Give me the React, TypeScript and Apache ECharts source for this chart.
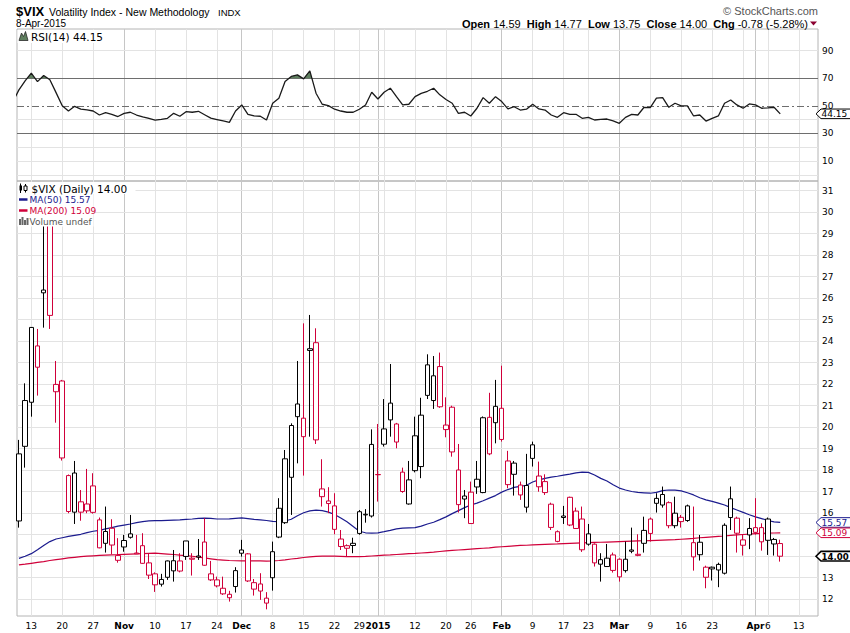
import React, { useEffect, useRef } from "react";
import * as echarts from "echarts";

// ---------- DATA ----------
const dates: string[] = [
  "2014-10-09","2014-10-10","2014-10-13","2014-10-14","2014-10-15","2014-10-16","2014-10-17","2014-10-20","2014-10-21","2014-10-22",
  "2014-10-23","2014-10-24","2014-10-27","2014-10-28","2014-10-29","2014-10-30","2014-10-31","2014-11-03","2014-11-04","2014-11-05",
  "2014-11-06","2014-11-07","2014-11-10","2014-11-11","2014-11-12","2014-11-13","2014-11-14","2014-11-17","2014-11-18","2014-11-19",
  "2014-11-20","2014-11-21","2014-11-24","2014-11-25","2014-11-26","2014-11-28","2014-12-01","2014-12-02","2014-12-03","2014-12-04",
  "2014-12-05","2014-12-08","2014-12-09","2014-12-10","2014-12-11","2014-12-12","2014-12-15","2014-12-16","2014-12-17","2014-12-18",
  "2014-12-19","2014-12-22","2014-12-23","2014-12-24","2014-12-26","2014-12-29","2014-12-30","2014-12-31","2015-01-02","2015-01-05",
  "2015-01-06","2015-01-07","2015-01-08","2015-01-09","2015-01-12","2015-01-13","2015-01-14","2015-01-15","2015-01-16","2015-01-20",
  "2015-01-21","2015-01-22","2015-01-23","2015-01-26","2015-01-27","2015-01-28","2015-01-29","2015-01-30","2015-02-02","2015-02-03",
  "2015-02-04","2015-02-05","2015-02-06","2015-02-09","2015-02-10","2015-02-11","2015-02-12","2015-02-13","2015-02-17","2015-02-18",
  "2015-02-19","2015-02-20","2015-02-23","2015-02-24","2015-02-25","2015-02-26","2015-02-27","2015-03-02","2015-03-03","2015-03-04",
  "2015-03-05","2015-03-06","2015-03-09","2015-03-10","2015-03-11","2015-03-12","2015-03-13","2015-03-16","2015-03-17","2015-03-18",
  "2015-03-19","2015-03-20","2015-03-23","2015-03-24","2015-03-25","2015-03-26","2015-03-27","2015-03-30","2015-03-31","2015-04-01",
  "2015-04-02","2015-04-06","2015-04-07","2015-04-08",
];

const opens: number[] = [
  15.64, 19.11, 21.16, 23.78, 26.38, 29.6, 21.65, 22.15, 17.75, 16.05,
  16.05, 16.43, 17.27, 15.69, 14.6, 15.3, 13.81, 14.43, 15.04, 14.15,
  14.49, 13.69, 13.18, 12.7, 13.78, 13.32, 13.78, 14.71, 13.91, 14.01,
  14.66, 13.18, 12.9, 12.51, 12.23, 12.59, 14.14, 14.11, 12.77, 12.71,
  12.05, 13.0, 16.23, 15.56, 17.67, 20.49, 19.56, 23.65, 23.93, 17.13,
  16.57, 16.34, 14.45, 14.49, 14.6, 16.07, 15.95, 15.87, 17.8, 19.21,
  20.34, 20.15, 17.91, 16.43, 17.98, 18.17, 22.9, 21.24, 22.82, 20.1,
  20.93, 18.01, 16.8, 16.98, 17.58, 16.96, 20.46, 20.21, 20.88, 18.43,
  17.81, 17.31, 16.28, 19.18, 17.73, 17.47, 16.42, 15.14, 15.87, 16.74,
  16.1, 15.73, 15.04, 14.56, 13.63, 13.52, 14.06, 13.86, 13.33, 14.29,
  14.09, 14.6, 15.73, 16.46, 16.38, 16.49, 15.42, 15.81, 16.34, 14.63,
  14.65, 13.49, 13.49, 13.36, 13.21, 16.67, 15.77, 14.76, 14.99, 15.33,
  15.33, 15.73, 14.57, 14.59,
];
const highs: number[] = [
  19.41, 22.04, 24.65, 24.57, 31.06, 30.2, 23.08, 22.2, 17.8, 18.43,
  17.08, 18.06, 17.86, 15.8, 16.31, 15.72, 14.84, 14.99, 15.92, 14.99,
  15.07, 14.14, 13.25, 13.18, 13.8, 14.29, 14.14, 14.71, 14.14, 14.8,
  15.77, 13.78, 13.05, 13.05, 12.39, 13.49, 14.76, 14.15, 12.94, 13.21,
  12.33, 14.68, 16.7, 18.94, 20.18, 23.08, 24.83, 25.22, 24.6, 18.51,
  17.21, 16.93, 15.22, 14.55, 14.86, 16.15, 16.19, 19.9, 20.15, 21.31,
  22.94, 20.2, 18.12, 18.43, 20.49, 21.37, 23.39, 23.31, 23.47, 21.39,
  21.0, 19.22, 17.08, 17.47, 18.43, 20.5, 21.6, 22.2, 22.86, 18.9,
  18.43, 17.47, 18.76, 19.33, 18.4, 17.81, 16.49, 15.2, 16.34, 16.77,
  16.26, 16.31, 15.5, 14.6, 14.14, 14.57, 14.17, 13.9, 14.68, 15.33,
  15.02, 15.84, 15.8, 16.93, 17.24, 16.55, 16.77, 15.92, 16.4, 16.31,
  14.99, 13.56, 13.52, 13.7, 15.53, 17.24, 15.84, 15.0, 15.77, 16.7,
  15.53, 15.8, 14.85, 14.77,
];
const lows: number[] = [
  15.33, 18.12, 20.49, 21.47, 24.63, 24.57, 20.21, 18.45, 16.0, 15.5,
  15.65, 16.0, 15.98, 14.37, 14.17, 14.09, 13.7, 14.21, 14.82, 14.1,
  13.65, 12.94, 12.34, 12.59, 12.9, 12.82, 13.25, 13.83, 13.1, 13.83,
  13.56, 12.85, 12.55, 12.2, 11.89, 12.31, 13.98, 12.8, 12.17, 11.97,
  11.53, 12.4, 14.84, 15.5, 15.92, 18.32, 17.75, 19.56, 19.22, 16.31,
  16.0, 15.02, 14.29, 14.01, 14.14, 15.0, 15.56, 15.8, 16.54, 19.1,
  19.56, 19.02, 16.95, 16.4, 17.9, 17.63, 21.31, 20.85, 20.9, 19.53,
  18.63, 16.03, 15.77, 15.5, 16.9, 16.93, 18.7, 19.25, 19.33, 17.16,
  16.82, 16.62, 16.03, 18.17, 17.0, 16.85, 15.22, 14.65, 15.5, 15.4,
  15.28, 14.2, 14.49, 13.52, 12.82, 13.5, 13.24, 12.82, 13.24, 14.14,
  14.0, 14.17, 14.68, 16.03, 16.26, 15.3, 15.3, 15.33, 15.6, 13.33,
  13.8, 12.51, 12.87, 12.56, 13.15, 15.22, 14.17, 14.03, 14.33, 15.0,
  14.26, 14.06, 14.03, 13.75,
];
const closes: number[] = [
  18.76, 21.24, 24.64, 22.79, 26.25, 25.2, 21.99, 18.57, 16.08, 17.87,
  16.53, 16.11, 16.04, 14.39, 15.15, 14.52, 14.03, 14.73, 14.88, 14.11,
  13.67, 13.12, 12.67, 12.92, 13.02, 13.79, 13.31, 13.99, 13.86, 13.96,
  13.58, 12.9, 12.62, 12.25, 12.07, 13.33, 14.29, 12.85, 12.47, 12.38,
  11.82, 14.21, 14.89, 18.53, 20.08, 21.08, 20.42, 23.57, 19.41, 16.77,
  16.45, 15.25, 14.8, 14.37, 14.5, 15.06, 15.92, 19.2, 17.79, 19.92,
  21.12, 19.31, 17.01, 17.55, 19.6, 20.56, 21.48, 22.39, 20.95, 19.89,
  18.85, 16.4, 16.66, 15.52, 17.22, 20.44, 18.76, 20.97, 19.43, 17.33,
  18.33, 16.85, 17.29, 18.55, 17.23, 16.96, 15.34, 14.69, 15.8, 15.45,
  15.29, 14.3, 14.56, 13.69, 13.84, 13.91, 13.34, 13.04, 13.86, 14.23,
  14.04, 15.2, 15.06, 16.69, 16.87, 15.42, 16.0, 15.61, 15.66, 13.97,
  14.07, 13.02, 13.41, 13.62, 15.44, 15.8, 15.07, 14.51, 15.29, 15.11,
  14.67, 14.74, 14.78, 14.0,
];
const ma50: number[] = [
  13.9, 14.0, 14.12, 14.3, 14.5, 14.68, 14.8, 14.86, 14.92, 14.97,
  15.02, 15.1, 15.16, 15.2, 15.27, 15.33, 15.4, 15.45, 15.5, 15.56,
  15.61, 15.64, 15.66, 15.66, 15.67, 15.68, 15.69, 15.71, 15.73, 15.76,
  15.77, 15.76, 15.73, 15.73, 15.74, 15.76, 15.78, 15.75, 15.71, 15.69,
  15.66, 15.62, 15.61, 15.64, 15.72, 15.88, 16.02, 16.11, 16.14, 16.12,
  16.05, 15.94, 15.78, 15.6, 15.38, 15.16, 15.09, 15.07, 15.09, 15.14,
  15.2, 15.27, 15.31, 15.32, 15.33, 15.4, 15.5, 15.58, 15.7, 15.83,
  15.98, 16.12, 16.26, 16.38, 16.47, 16.58, 16.7, 16.82, 16.98, 17.1,
  17.2, 17.25, 17.3, 17.45, 17.55, 17.62, 17.68, 17.72, 17.77, 17.82,
  17.88, 17.91, 17.9, 17.78, 17.62, 17.5, 17.32, 17.17, 17.08, 17.01,
  16.97, 16.95, 16.93, 16.97, 17.05, 17.08, 17.07, 17.04, 16.95, 16.85,
  16.72, 16.62, 16.55, 16.47, 16.38, 16.26, 16.15, 16.04, 15.93, 15.83,
  15.75, 15.66, 15.6, 15.57,
];
const ma200: number[] = [
  13.6, 13.63, 13.67, 13.71, 13.75, 13.8, 13.84, 13.88, 13.92, 13.95,
  13.98, 14.0, 14.02, 14.04, 14.05, 14.06, 14.07, 14.09, 14.1, 14.11,
  14.12, 14.13, 14.14, 14.12, 14.1, 14.08, 14.05, 14.03, 14.0, 13.96,
  13.92, 13.88, 13.84, 13.82, 13.8, 13.79, 13.78, 13.78, 13.78, 13.78,
  13.77, 13.78, 13.8, 13.83, 13.87, 13.9, 13.94, 13.97, 13.99, 14.0,
  14.01, 14.0, 13.99, 13.98, 13.98, 13.98, 13.99, 14.01, 14.03, 14.05,
  14.06, 14.08, 14.1, 14.12, 14.13, 14.15, 14.17, 14.19, 14.22, 14.25,
  14.27, 14.29, 14.31, 14.33, 14.35, 14.37, 14.39, 14.42, 14.44, 14.46,
  14.48, 14.5, 14.51, 14.53, 14.54, 14.55, 14.56, 14.57, 14.59, 14.6,
  14.61, 14.62, 14.63, 14.64, 14.65, 14.66, 14.67, 14.68, 14.69, 14.7,
  14.71, 14.72, 14.73, 14.74, 14.75, 14.76, 14.77, 14.79, 14.81, 14.83,
  14.86, 14.88, 14.9, 14.92, 14.94, 14.97, 14.99, 15.01, 15.03, 15.05,
  15.06, 15.07, 15.08, 15.09,
];
const rsiPrevDay = 52.7;
const rsi14: number[] = [
  61.5, 68, 73.6, 67.5, 71.9, 68.8, 59.5, 50, 46.2, 49.6,
  47.6, 47, 46.2, 43.3, 45, 43.8, 42.2, 44.5, 45.3, 43.3,
  42, 40.8, 39.6, 40.2, 40.9, 44.5, 42.4, 45.7, 45.3, 46,
  43.5, 41, 40, 39, 38, 46.2, 50.6, 43.8, 42.6, 42.4,
  39.7, 51.8, 55.5, 67.5, 71.2, 72.4, 69.5, 75.3, 59.1, 51.1,
  50.1, 47.5, 46.2, 45.3, 45.3, 47.5, 50.6, 59.8, 54.9, 59.8,
  62.7, 56.6, 50.6, 51.1, 56.6, 59, 60.5, 62.7, 57.9, 54.5,
  51.8, 44.5, 45.3, 42.6, 48.2, 55.9, 51.8, 56.6, 53, 47.7,
  49.3, 46.9, 47.5, 51.1, 47.7, 46.9, 43.3, 41.6, 45, 43.8,
  43.8, 40.9, 41.6, 39.7, 40.2, 40.4, 39, 37.3, 41.6, 43.8,
  43.3, 48.9, 48.7, 55.5, 55.9, 48.9, 51.8, 49.9, 49.9, 42.6,
  43.3, 38.9, 40.9, 42.6, 51.8, 54.2, 50.6, 48.2, 51.3, 50.6,
  48.2, 48.5, 48.9, 44.15,
];

// x-axis labels (trading-day index -> text)
const xLabelIdx: number[] = [2, 7, 12, 17, 22, 27, 32, 36, 41, 46, 51, 55, 58, 64, 69, 73, 78, 83, 88, 92, 97, 102, 107, 112, 119, 121, 126];
const xLabelText: string[] = ["13", "20", "27", "Nov", "10", "17", "24", "Dec", "8", "15", "22", "29", "2015", "12", "20", "26", "Feb", "9", "17", "23", "Mar", "9", "16", "23", "Apr", "6", "13"];
const boldLabels: string[] = ["Nov", "Dec", "2015", "Feb", "Mar", "Apr"];
const weekLineIdx: number[] = [2, 7, 12, 22, 27, 32, 41, 46, 51, 55, 59, 64, 69, 73, 83, 88, 92, 102, 107, 112, 117, 121, 126];
const monthLineIdx: number[] = [17, 36, 58, 78, 97, 119];
const priceTicks: number[] = [12, 13, 14, 15, 16, 17, 18, 19, 20, 21, 22, 23, 24, 25, 26, 27, 28, 29, 30, 31];
const rsiTicks: number[] = [10, 30, 50, 70, 90];
const rsiLightLines: number[] = [0, 10, 20, 40, 90];
const rsiBandLines: number[] = [30, 70];
const rsiMidLine = 50;
const rsiOverbought = 70;

// ---------- LAYOUT ----------
const X_MIN = -0.31;
const X_MAX = 129.1;
const PRICE_MIN = 11.22;
const PRICE_MAX = 31.45;
const RSI_MIN = -4.5;
const RSI_MAX = 105.6;

const FA = '"Liberation Sans", Arial, sans-serif';
const FV = '"DejaVu Sans", Verdana, sans-serif';
const BLACK = "#000000";
const RED = "#d0003a";
const NAVY = "#1b1b8e";
const GREEN = "#5f7f5f";
const GRID_LIGHT = "#e3e3e3";
const GRID_DARK = "#c6c6c6";
const AXIS_FONT = 9;
const TAG_HALF = 4.8;

function txt(x: number, y: number, text: string, size: number, opts: any = {}) {
  return {
    type: "text",
    x,
    y,
    z: 100,
    style: {
      text,
      fontSize: size,
      fontFamily: opts.family || FA,
      fontWeight: opts.weight || "normal",
      fill: opts.fill || "#000",
      align: opts.align || "left",
      textAlign: opts.align || "left",
      verticalAlign: "middle",
      textVerticalAlign: "middle",
      rich: opts.rich,
    },
  };
}

export default function App() {
  const ref = useRef<HTMLDivElement>(null);

  useEffect(() => {
    if (!ref.current) return;
    const chart = echarts.init(ref.current, null, { renderer: "svg" });

    const candleData = opens.map((o, i) => {
      const c = closes[i];
      const col = i === 0 || c >= closes[i - 1] ? BLACK : RED;
      return {
        name: dates[i],
        value: [i, o, c, lows[i], highs[i]],
        itemStyle: { color: "#ffffff", borderColor: col, color0: col, borderColor0: col, borderColorDoji: col, borderWidth: 1 },
      };
    });

    const rsiPts: number[][] = [[-1, rsiPrevDay], ...rsi14.map((v, i) => [i, v])];
    // overbought fill (above 70), derived from the RSI line
    const obPts: number[][] = [];
    for (let k = 0; k < rsiPts.length; k++) {
      if (k > 0) {
        const [x0, y0] = rsiPts[k - 1];
        const [x1, y1] = rsiPts[k];
        if ((y0 - rsiOverbought) * (y1 - rsiOverbought) < 0) {
          const t = (rsiOverbought - y0) / (y1 - y0);
          obPts.push([x0 + t * (x1 - x0), rsiOverbought]);
        }
      }
      obPts.push([rsiPts[k][0], Math.max(rsiPts[k][1], rsiOverbought)]);
    }

    const vLines = [
      ...weekLineIdx.map((v) => ({ xAxis: v, lineStyle: { color: GRID_LIGHT, width: 1, type: "solid" } })),
      ...monthLineIdx.map((v) => ({ xAxis: v, lineStyle: { color: GRID_DARK, width: 1, type: "solid" } })),
    ];
    const markBase = { silent: true, symbol: ["none", "none"], label: { show: false }, z: 1, animation: false, emphasis: { disabled: true } };
    const axisLabelBase = { margin: 4, fontSize: AXIS_FONT, fontFamily: FV, color: "#000" };

    const option: any = {
      animation: false,
      backgroundColor: "#ffffff",
      grid: [
        { left: 17, right: 32, top: 29, height: 152, show: true, borderColor: "#b4b4b4", borderWidth: 1, backgroundColor: "transparent" },
        { left: 17, right: 32, top: 181, height: 435, show: true, borderColor: "#b4b4b4", borderWidth: 1, backgroundColor: "transparent" },
      ],
      xAxis: [
        {
          gridIndex: 0, type: "value", min: X_MIN, max: X_MAX,
          axisLine: { show: false }, axisTick: { show: false }, axisLabel: { show: false }, splitLine: { show: false },
        },
        {
          gridIndex: 1, type: "value", min: X_MIN, max: X_MAX,
          axisLine: { show: false }, axisTick: { show: false }, splitLine: { show: false },
          axisLabel: {
            customValues: xLabelIdx,
            margin: 5,
            fontSize: AXIS_FONT,
            fontFamily: FV,
            color: "#000",
            formatter: (v: number) => {
              const k = xLabelIdx.indexOf(Math.round(v));
              if (k < 0) return "";
              const t = xLabelText[k];
              return boldLabels.includes(t) ? "{b|" + t + "}" : "{n|" + t + "}";
            },
            rich: {
              b: { fontWeight: "bold", fontSize: AXIS_FONT, fontFamily: FV, color: "#000" },
              n: { fontSize: AXIS_FONT, fontFamily: FV, color: "#000" },
            },
          },
        },
      ],
      yAxis: [
        {
          gridIndex: 0, type: "value", position: "right", min: RSI_MIN, max: RSI_MAX,
          axisLine: { show: false }, axisTick: { show: false }, splitLine: { show: false },
          axisLabel: { ...axisLabelBase, customValues: rsiTicks },
        },
        {
          gridIndex: 1, type: "value", position: "right", min: PRICE_MIN, max: PRICE_MAX,
          axisLine: { show: false }, axisTick: { show: false }, splitLine: { show: false },
          axisLabel: { ...axisLabelBase, customValues: priceTicks },
        },
      ],
      series: [
        {
          type: "line", name: "RSI fill", xAxisIndex: 0, yAxisIndex: 0, data: obPts,
          symbol: "none", lineStyle: { width: 0 }, areaStyle: { origin: rsiOverbought, color: GREEN, opacity: 1 }, z: 2, silent: true,
        },
        {
          type: "line", name: "RSI(14)", xAxisIndex: 0, yAxisIndex: 0, data: rsiPts,
          symbol: "none", lineStyle: { color: "#1a1a1a", width: 1.3 }, z: 3, silent: true,
          markLine: {
            ...markBase,
            data: [
              ...vLines,
              ...rsiLightLines.map((v) => ({ yAxis: v, lineStyle: { color: GRID_LIGHT, width: 1, type: "solid" } })),
              ...rsiBandLines.map((v) => ({ yAxis: v, lineStyle: { color: "#6e6e6e", width: 1, type: "solid" } })),
              { yAxis: rsiMidLine, lineStyle: { color: "#6e6e6e", width: 1, type: [7, 3, 2, 3] } },
            ],
          },
        },
        {
          type: "line", name: "MA(200)", xAxisIndex: 1, yAxisIndex: 1, data: ma200.map((v, i) => [i, v]),
          symbol: "none", lineStyle: { color: RED, width: 1.2 }, z: 3, silent: true,
          markLine: {
            ...markBase,
            data: [
              ...vLines,
              ...priceTicks.map((v) => ({ yAxis: v, lineStyle: { color: GRID_LIGHT, width: 1, type: "solid" } })),
            ],
          },
        },
        {
          type: "line", name: "MA(50)", xAxisIndex: 1, yAxisIndex: 1, data: ma50.map((v, i) => [i, v]),
          symbol: "none", lineStyle: { color: NAVY, width: 1.2 }, z: 3, silent: true,
        },
        {
          type: "candlestick", name: "$VIX", xAxisIndex: 1, yAxisIndex: 1,
          dimensions: ["idx", "open", "close", "low", "high"],
          encode: { x: 0, y: [1, 2, 3, 4] },
          data: candleData, barWidth: 5, z: 4, silent: true,
        },
      ],
    };
    chart.setOption(option);

    const n = closes.length;
    const lastClose = closes[n - 1];
    const chg = lastClose - closes[n - 2];
    const chgPct = (chg / closes[n - 2]) * 100;
    const rsiLast = rsi14[n - 1];

    const px = (axis: number, v: number) => chart.convertToPixel({ yAxisIndex: axis } as any, v) as unknown as number;
    const yRsi = px(0, rsiLast);
    const yMa50 = px(1, ma50[n - 1]);
    const yMa200 = px(1, ma200[n - 1]);
    const yClose = px(1, lastClose);

    // axis labels hidden underneath the value tags
    const rsiTags = [yRsi];
    const priceTags = [yMa50, yMa200, yClose];
    const rsiLabelVals = rsiTicks.filter((v) => rsiTags.every((t) => Math.abs(px(0, v) - t) > 7.5));
    const priceLabelVals = priceTicks.filter((v) => priceTags.every((t) => Math.abs(px(1, v) - t) > 7.5));

    const tag = (val: number, y: number, color: string, bold: boolean) => ({
      type: "group",
      z: 200,
      children: [
        {
          type: "polygon", z: 200,
          shape: { points: [[816, y], [821, y - TAG_HALF], [851, y - TAG_HALF], [851, y + TAG_HALF], [821, y + TAG_HALF]] },
          style: { fill: "#ffffff", stroke: color, lineWidth: bold ? 1.6 : 1 },
        },
        {
          type: "text", x: 821.5, y: y + 0.5, z: 201,
          style: {
            text: val.toFixed(2), fontSize: bold ? 8.6 : 9, fontFamily: FV, fontWeight: bold ? "bold" : "normal", fill: color,
            align: "left", textAlign: "left", verticalAlign: "middle", textVerticalAlign: "middle",
          },
        },
      ],
    });

    const elements: any[] = [
      // header
      txt(16, 11, "$VIX", 13, { weight: "bold" }),
      txt(49, 11.5, "Volatility Index - New Methodology", 10.5),
      txt(218, 12, "INDX", 9.5),
      txt(16, 23.5, "8-Apr-2015", 10),
      txt(818, 10.5, "\u00A9 StockCharts.com", 11, { align: "right", fill: "#555" }),
      txt(808, 23.5,
        `{b|Open} ${opens[n - 1].toFixed(2)}  {b|High} ${highs[n - 1].toFixed(2)}  {b|Low} ${lows[n - 1].toFixed(2)}  {b|Close} ${lastClose.toFixed(2)}  {b|Chg} ${chg.toFixed(2)} (${chgPct.toFixed(2)}%)`,
        11, { align: "right", rich: { b: { fontWeight: "bold", fontSize: 11, fontFamily: FA, fill: "#000", color: "#000" } } }),
      { type: "polygon", z: 100, shape: { points: [[810, 21.5], [817, 21.5], [813.5, 25.5]] }, style: { fill: "#8b0030" } },

      // RSI legend
      { type: "rect", z: 99, shape: { x: 17.5, y: 30, width: 95, height: 13 }, style: { fill: "#ffffff" } },
      { type: "polygon", z: 100, shape: { points: [[19, 40.5], [21.5, 33], [23.5, 36.5], [25.5, 31.5], [28, 40.5]] }, style: { fill: GREEN, stroke: "#2a2a2a", lineWidth: 0.8 } },
      txt(31, 36.8, `RSI(14) ${rsiLast.toFixed(2)}`, 10.5, { family: FV }),

      // price legend
      { type: "rect", z: 99, shape: { x: 17.5, y: 182, width: 118, height: 12 }, style: { fill: "#ffffff" } },
      { type: "rect", z: 99, shape: { x: 17.5, y: 194, width: 76, height: 32.5 }, style: { fill: "#ffffff" } },
      { type: "line", z: 100, shape: { x1: 20.5, y1: 183.5, x2: 20.5, y2: 193 }, style: { stroke: "#000", lineWidth: 1 } },
      { type: "rect", z: 100, shape: { x: 19.5, y: 185.5, width: 2.5, height: 5 }, style: { fill: "#000" } },
      { type: "line", z: 100, shape: { x1: 25.5, y1: 184, x2: 25.5, y2: 192.5 }, style: { stroke: "#000", lineWidth: 1 } },
      { type: "rect", z: 100, shape: { x: 24, y: 186, width: 3, height: 4.5 }, style: { fill: "#fff", stroke: "#000", lineWidth: 1 } },
      txt(31.5, 188.5, `$VIX (Daily) ${lastClose.toFixed(2)}`, 10.5, { family: FV }),
      { type: "line", z: 100, shape: { x1: 19, y1: 199.5, x2: 27.5, y2: 199.5 }, style: { stroke: NAVY, lineWidth: 2.5 } },
      txt(29.5, 199.8, `MA(50) ${ma50[n - 1].toFixed(2)}`, 9, { family: FV, fill: NAVY }),
      { type: "line", z: 100, shape: { x1: 19, y1: 210.5, x2: 27.5, y2: 210.5 }, style: { stroke: RED, lineWidth: 2.5 } },
      txt(29.5, 210.8, `MA(200) ${ma200[n - 1].toFixed(2)}`, 9, { family: FV, fill: RED }),
      { type: "rect", z: 100, shape: { x: 19, y: 219, width: 2, height: 6 }, style: { fill: "#666" } },
      { type: "rect", z: 100, shape: { x: 21.5, y: 217, width: 2, height: 8 }, style: { fill: "#666" } },
      { type: "rect", z: 100, shape: { x: 24, y: 220, width: 2, height: 5 }, style: { fill: "#666" } },
      { type: "rect", z: 100, shape: { x: 26.5, y: 218, width: 2, height: 7 }, style: { fill: "#666" } },
      txt(29.5, 221.5, "Volume undef", 9, { family: FV, fill: "#555" }),

      // right-side value tags
      tag(rsiLast, yRsi, "#000", false),
      tag(ma50[n - 1], yMa50, NAVY, false),
      tag(ma200[n - 1], yMa200, RED, false),
      tag(lastClose, yClose, "#000", true),
    ];
    chart.setOption({
      yAxis: [
        { axisLabel: { ...axisLabelBase, customValues: rsiLabelVals } },
        { axisLabel: { ...axisLabelBase, customValues: priceLabelVals } },
      ],
      graphic: { elements },
    });

    return () => chart.dispose();
  }, []);

  return (
    <div
      ref={ref}
      style={{ position: "fixed", left: 0, top: 0, width: 850, height: 633, background: "#ffffff" }}
    />
  );
}
